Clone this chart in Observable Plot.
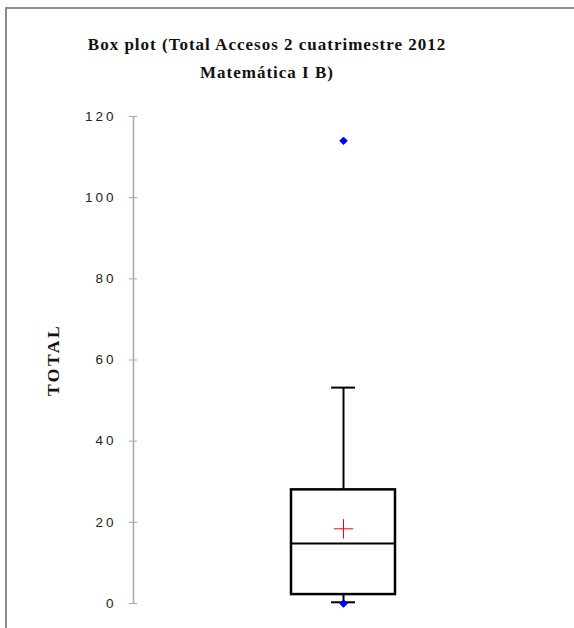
<!DOCTYPE html>
<html>
<head>
<meta charset="utf-8">
<script src="https://cdn.jsdelivr.net/npm/d3@7"></script>
<script src="https://cdn.jsdelivr.net/npm/@observablehq/plot@0.6"></script>
<style>
  html, body { margin: 0; padding: 0; background: #fff; }
  #wrap { position: relative; width: 574px; height: 628px; overflow: hidden; background: #fff; }
  #frame { position: absolute; left: 5px; top: 7px; width: 600px; height: 700px;
           border-top: 2px solid #8c8c8c; border-left: 2px solid #8c8c8c; }
  #title { position: absolute; left: 0; top: 31px; width: 534px; text-align: center;
           font-family: "Liberation Serif", "Times New Roman", serif; font-weight: bold;
           font-size: 17px; letter-spacing: 1px; line-height: 28px; color: #111; }
  #chart { position: absolute; left: 0; top: 100px; }
  #chart svg g[aria-label="y-axis tick label"] { letter-spacing: 3px; }
  #chart svg g[aria-label="text"] { letter-spacing: 2.5px; }
</style>
</head>
<body>
<div id="wrap">
  <div id="frame"></div>
  <div id="title">Box plot (Total Accesos 2 cuatrimestre 2012<br>Matemática I B)</div>
  <div id="chart"></div>
</div>
<script>
// Data
const categories = ["TOTAL"];
const q1 = [2.2];
const q3 = [28];
const median = [14.8];
const mean = [18.4];
const whiskerLow = [0.3];
const whiskerHigh = [53.2];
const minimum = [0];
const maximum = [114];
const yTicks = [0, 20, 40, 60, 80, 100, 120];

const boxes = categories.map((c, i) => ({
  name: c, x: i + 1,
  q1: q1[i], q3: q3[i], median: median[i], mean: mean[i],
  lo: whiskerLow[i], hi: whiskerHigh[i]
}));
const extremes = categories.flatMap((c, i) => [
  {x: i + 1, v: minimum[i]}, {x: i + 1, v: maximum[i]}
]);

const hw = 0.2476;  // box half width (x units)
const cw = 0.057;   // cap half width

const chart = Plot.plot({
  width: 574,
  height: 528,
  marginLeft: 133,
  marginRight: 21,
  marginTop: 16,
  marginBottom: 25,
  x: {domain: [0, 2], axis: null},
  y: {domain: [0, 120], ticks: yTicks, label: null},
  style: {background: "transparent", overflow: "visible"},
  marks: [
    Plot.ruleX([0], {stroke: "#a6a6a6", strokeWidth: 1.5}),
    Plot.axisY(yTicks, {
      anchor: "left", tickSize: 8, dx: 4, tickPadding: 13,
      stroke: "#a6a6a6", fill: "#222", label: null,
      fontFamily: "'Liberation Sans', Arial, sans-serif", fontSize: 13.5
    }),
    Plot.text(["TOTAL"], {
      frameAnchor: "left", textAnchor: "middle", dx: -80, rotate: -90, text: d => d,
      fontFamily: "'Liberation Serif', 'Times New Roman', serif",
      fontWeight: "bold", fontSize: 17.5, fill: "#111"
    }),
    // whiskers
    Plot.ruleX(boxes, {x: "x", y1: "q3", y2: "hi", stroke: "#000", strokeWidth: 2}),
    Plot.ruleX(boxes, {x: "x", y1: "lo", y2: "q1", stroke: "#000", strokeWidth: 2}),
    Plot.ruleY(boxes, {y: "hi", x1: d => d.x - cw, x2: d => d.x + cw, stroke: "#000", strokeWidth: 2}),
    Plot.ruleY(boxes, {y: "lo", x1: d => d.x - cw, x2: d => d.x + cw, stroke: "#000", strokeWidth: 2}),
    // box
    Plot.rect(boxes, {x1: d => d.x - hw, x2: d => d.x + hw, y1: "q1", y2: "q3",
      fill: "none", stroke: "#000", strokeWidth: 2.5}),
    Plot.ruleY(boxes, {y: "median", x1: d => d.x - hw, x2: d => d.x + hw, stroke: "#000", strokeWidth: 2}),
    // mean
    Plot.dot(boxes, {x: "x", y: "mean", symbol: "plus", r: 6.3, stroke: "#ff0000", strokeWidth: 1}),
    // min / max
    Plot.dot(extremes, {x: "x", y: "v", symbol: "diamond2", r: 3.4, fill: "#0000ff", stroke: "#0000ff", strokeWidth: 1})
  ]
});
document.getElementById("chart").appendChild(chart);
</script>
</body>
</html>
